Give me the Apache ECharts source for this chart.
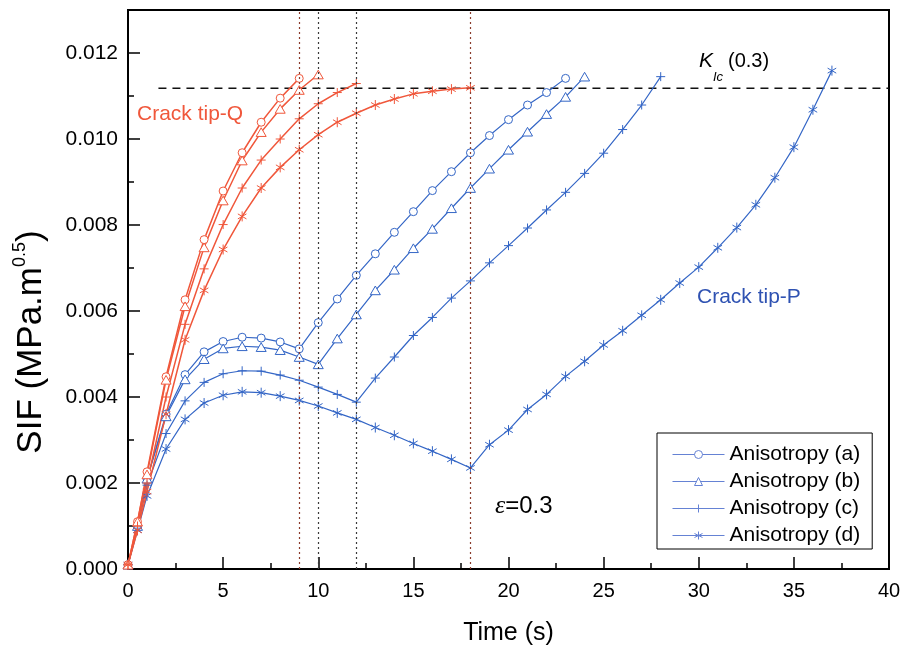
<!DOCTYPE html>
<html>
<head>
<meta charset="utf-8">
<script src="https://cdn.jsdelivr.net/npm/echarts@6/dist/echarts.min.js"></script>
<style>
  html, body { margin: 0; padding: 0; background: #fff; }
  #chart { width: 904px; height: 653px; }
</style>
</head>
<body>
<div id="chart"></div>
<script>
// ---- Crack tip-Q (red) : time (s) and SIF (MPa.m^0.5) ----
const tQa = [0, 0.5, 1, 2, 3, 4, 5, 6, 7, 8, 9];
const sQa = [0.0001, 0.0011, 0.00226, 0.00447, 0.00626, 0.00766, 0.00879, 0.00968, 0.01039, 0.01095, 0.01141];
const tQb = [0, 0.5, 1, 2, 3, 4, 5, 6, 7, 8, 9, 10];
const sQb = [0.0001, 0.0011, 0.0022, 0.0044, 0.00611, 0.00748, 0.00857, 0.0095, 0.01016, 0.0107, 0.01114, 0.0115];
const tQc = [0, 0.5, 1, 2, 3, 4, 5, 6, 7, 8, 9, 10, 11, 12];
const sQc = [0.0001, 0.001, 0.002, 0.004, 0.00569, 0.00698, 0.00801, 0.00886, 0.00951, 0.01, 0.01047, 0.01082, 0.01108, 0.01129];
const tQd = [0, 0.5, 1, 2, 3, 4, 5, 6, 7, 8, 9, 10, 11, 12, 13, 14, 15, 16, 17, 18];
const sQd = [0.0001, 0.0009, 0.0018, 0.0036, 0.00533, 0.00648, 0.00743, 0.0082, 0.00886, 0.00934, 0.00975, 0.0101, 0.01039, 0.0106, 0.01079, 0.01093, 0.01105, 0.01111, 0.01116, 0.01119];

// ---- Crack tip-P (blue) ----
const tPa = [0, 0.5, 1, 2, 3, 4, 5, 6, 7, 8, 9, 10, 11, 12, 13, 14, 15, 16, 17, 18, 19, 20, 21, 22, 23];
const sPa = [0.0001, 0.001, 0.0021, 0.0036, 0.00452, 0.00505, 0.00529, 0.00539, 0.00537, 0.00528, 0.00512, 0.00573, 0.00628, 0.00683, 0.00733, 0.00783, 0.00831, 0.0088, 0.00924, 0.00968, 0.01008, 0.01045, 0.01079, 0.01108, 0.01141];
const tPb = [0, 0.5, 1, 2, 3, 4, 5, 6, 7, 8, 9, 10, 11, 12, 13, 14, 15, 16, 17, 18, 19, 20, 21, 22, 23, 24];
const sPb = [0.0001, 0.001, 0.0021, 0.00355, 0.00441, 0.00488, 0.00513, 0.00518, 0.00516, 0.00509, 0.00493, 0.00476, 0.00536, 0.00592, 0.00648, 0.00696, 0.00746, 0.00791, 0.00839, 0.00886, 0.00931, 0.00975, 0.01017, 0.01058, 0.01098, 0.01145];
const tPc = [0, 0.5, 1, 2, 3, 4, 5, 6, 7, 8, 9, 10, 11, 12, 13, 14, 15, 16, 17, 18, 19, 20, 21, 22, 23, 24, 25, 26, 27, 28];
const sPc = [0.0001, 0.00095, 0.00195, 0.00315, 0.00391, 0.00434, 0.00454, 0.00461, 0.0046, 0.00451, 0.00439, 0.00423, 0.00406, 0.00388, 0.00444, 0.00493, 0.00543, 0.00585, 0.0063, 0.0067, 0.00712, 0.00752, 0.00793, 0.00835, 0.00876, 0.0092, 0.00967, 0.01022, 0.01079, 0.01145];
const tPd = [0, 0.5, 1, 2, 3, 4, 5, 6, 7, 8, 9, 10, 11, 12, 13, 14, 15, 16, 17, 18, 19, 20, 21, 22, 23, 24, 25, 26, 27, 28, 29, 30, 31, 32, 33, 34, 35, 36, 37];
const sPd = [0.0001, 0.0009, 0.0017, 0.00279, 0.00348, 0.00386, 0.00404, 0.00412, 0.0041, 0.00402, 0.00392, 0.00379, 0.00363, 0.00348, 0.00329, 0.00311, 0.00292, 0.00274, 0.00255, 0.00235, 0.00289, 0.00323, 0.00371, 0.00406, 0.00448, 0.00483, 0.00521, 0.00554, 0.0059, 0.00626, 0.00665, 0.00702, 0.00747, 0.00794, 0.00847, 0.0091, 0.00981, 0.01068, 0.01159];

// critical SIF level and the times where each tip-Q curve stops
const kIc = 0.01118;
const kIcSpan = [1.6, 40];
const stopTimes = [9, 10, 12, 18];
const stopColors = ['#8a3b2b', '#3a3a3a', '#3a3a3a', '#8a3b2b'];

const legendNames = ['Anisotropy (a)', 'Anisotropy (b)', 'Anisotropy (c)', 'Anisotropy (d)'];
const xTickStep = 5;
const yTickStep = 0.002;

const RED = '#f0573b';
const BLUE = '#3466c6';
const FONT = '"Liberation Sans", Arial, sans-serif';

// open markers: circle, triangle, plus, asterisk (thin outlines, white fill where closed)
const CIRC = 'path://M0,5A5,5 0 1,0 10,5A5,5 0 1,0 0,5Z';
const TRI = 'path://M5,0L10,8.66L0,8.66Z';
const PLUS = 'path://M0,5L10,5M5,0L5,10';
const STAR = 'path://M5,0L5,10M0.7,2.5L9.3,7.5M0.7,7.5L9.3,2.5';
const symbols = [CIRC, TRI, PLUS, STAR];
const symbolSizes = [8, 10, 9, 10];
const hollow = [true, true, false, false];

function pairs(ts, vs) { return ts.map((t, i) => [t, vs[i]]); }

function curve(name, ts, vs, color, k, width) {
  return {
    name: name,
    type: 'line',
    data: pairs(ts, vs),
    symbol: symbols[k],
    symbolSize: symbolSizes[k],
    symbolKeepAspect: true,
    showAllSymbol: true,
    lineStyle: { color: color, width: width },
    itemStyle: { color: hollow[k] ? '#fff' : color, borderColor: color, borderWidth: 1 },
    emphasis: { disabled: true },
    z: 3
  };
}

const series = [];
// reference level and stop lines
series.push({
  name: 'KIc',
  type: 'line',
  data: [[kIcSpan[0], kIc], [kIcSpan[1], kIc]],
  symbol: 'none',
  lineStyle: { color: '#111', width: 1.3, type: [8, 6] },
  z: 1,
  markLine: {
    silent: true,
    symbol: ['none', 'none'],
    label: { show: false },
    data: stopTimes.map((t, i) => ({ xAxis: t, lineStyle: { color: stopColors[i], type: [2, 3], width: 1.2 } }))
  }
});
[[tPa, sPa], [tPb, sPb], [tPc, sPc], [tPd, sPd]].forEach((d, k) => {
  series.push(curve(legendNames[k], d[0], d[1], BLUE, k, 1.2));
});
[[tQa, sQa], [tQb, sQb], [tQc, sQc], [tQd, sQd]].forEach((d, k) => {
  series.push(curve('Q' + k, d[0], d[1], RED, k, 1.5));
});

const LEG = '#6582d4';
const chart = echarts.init(document.getElementById('chart'), null, { renderer: 'canvas' });
chart.setOption({
  animation: false,
  backgroundColor: '#fff',
  textStyle: { fontFamily: FONT, color: '#000' },
  grid: { left: 128, right: 15, top: 10, bottom: 84, show: true, borderColor: '#000', borderWidth: 2, backgroundColor: 'transparent' },
  xAxis: {
    type: 'value', min: 0, max: 40, interval: xTickStep,
    axisLine: { lineStyle: { color: '#000', width: 2 } },
    axisTick: { inside: true, length: 12, lineStyle: { color: '#000', width: 1.5 } },
    minorTick: { show: true, splitNumber: 2, length: 6, lineStyle: { color: '#000', width: 1.5 } },
    axisLabel: { color: '#000', fontSize: 20, fontFamily: FONT, margin: 12 },
    splitLine: { show: false },
    name: 'Time (s)', nameLocation: 'middle', nameGap: 52,
    nameTextStyle: { fontSize: 25, fontFamily: FONT, color: '#000', verticalAlign: 'top' }
  },
  yAxis: [{
    type: 'value', min: 0, max: 0.013, interval: yTickStep,
    axisLine: { lineStyle: { color: '#000', width: 2 } },
    axisTick: { inside: true, length: 12, lineStyle: { color: '#000', width: 1.5 } },
    axisLabel: { color: '#000', fontSize: 21, fontFamily: FONT, margin: 10, showMaxLabel: false,
      formatter: v => v.toFixed(3) },
    splitLine: { show: false }
  }, {
    type: 'value', min: 0, max: 0.013, interval: yTickStep / 2, position: 'left',
    axisLine: { show: false },
    axisTick: { inside: true, length: 6, lineStyle: { color: '#000', width: 1.5 } },
    axisLabel: { show: false },
    splitLine: { show: false }
  }],
  legend: {
    left: 657, top: 433,
    orient: 'vertical',
    data: legendNames.map((n, k) => ({ name: n, itemStyle: { color: hollow[k] ? '#fff' : LEG, borderColor: LEG, borderWidth: 1 } })),
    itemWidth: 52, itemHeight: 10, itemGap: 6,
    padding: [11, 12, 3, 15],
    borderColor: '#000', borderWidth: 1, backgroundColor: '#fff',
    textStyle: { fontSize: 21, fontFamily: FONT, color: '#000', lineHeight: 21 },
    lineStyle: { color: LEG, width: 1 },
    selectedMode: false
  },
  graphic: [
    { type: 'text', x: 137, y: 114, style: { text: 'Crack tip-Q', fill: RED, font: '21px ' + FONT, align: 'left', verticalAlign: 'middle' } },
    { type: 'text', x: 697, y: 297, style: { text: 'Crack tip-P', fill: '#2f52b2', font: '21px ' + FONT, align: 'left', verticalAlign: 'middle' } },
    { type: 'text', x: 699, y: 61, style: { text: 'K', fill: '#000', font: 'italic 21px ' + FONT, align: 'left', verticalAlign: 'middle' } },
    { type: 'text', x: 713, y: 77, style: { text: 'Ic', fill: '#000', font: 'italic 13px ' + FONT, align: 'left', verticalAlign: 'middle' } },
    { type: 'text', x: 728, y: 61, style: { text: '(0.3)', fill: '#000', font: '20px ' + FONT, align: 'left', verticalAlign: 'middle' } },
    { type: 'text', x: 495, y: 506, style: {
        text: '{e|ε}{n|=0.3}', align: 'left', verticalAlign: 'middle',
        rich: {
          e: { fontSize: 26, fontStyle: 'italic', fontFamily: '"Liberation Serif", serif', color: '#000' },
          n: { fontSize: 24, fontFamily: FONT, color: '#000' }
        } } },
    { type: 'text', x: 31, y: 342, rotation: Math.PI / 2, style: {
        text: '{a|SIF (MPa.m}{s|0.5}{a|)}', align: 'center', verticalAlign: 'middle',
        rich: {
          a: { fontSize: 35, fontFamily: FONT, color: '#000', lineHeight: 40, verticalAlign: 'middle' },
          s: { fontSize: 18, fontFamily: FONT, color: '#000', lineHeight: 18, verticalAlign: 'top' }
        } } }
  ],
  series: series
});
</script>
</body>
</html>
